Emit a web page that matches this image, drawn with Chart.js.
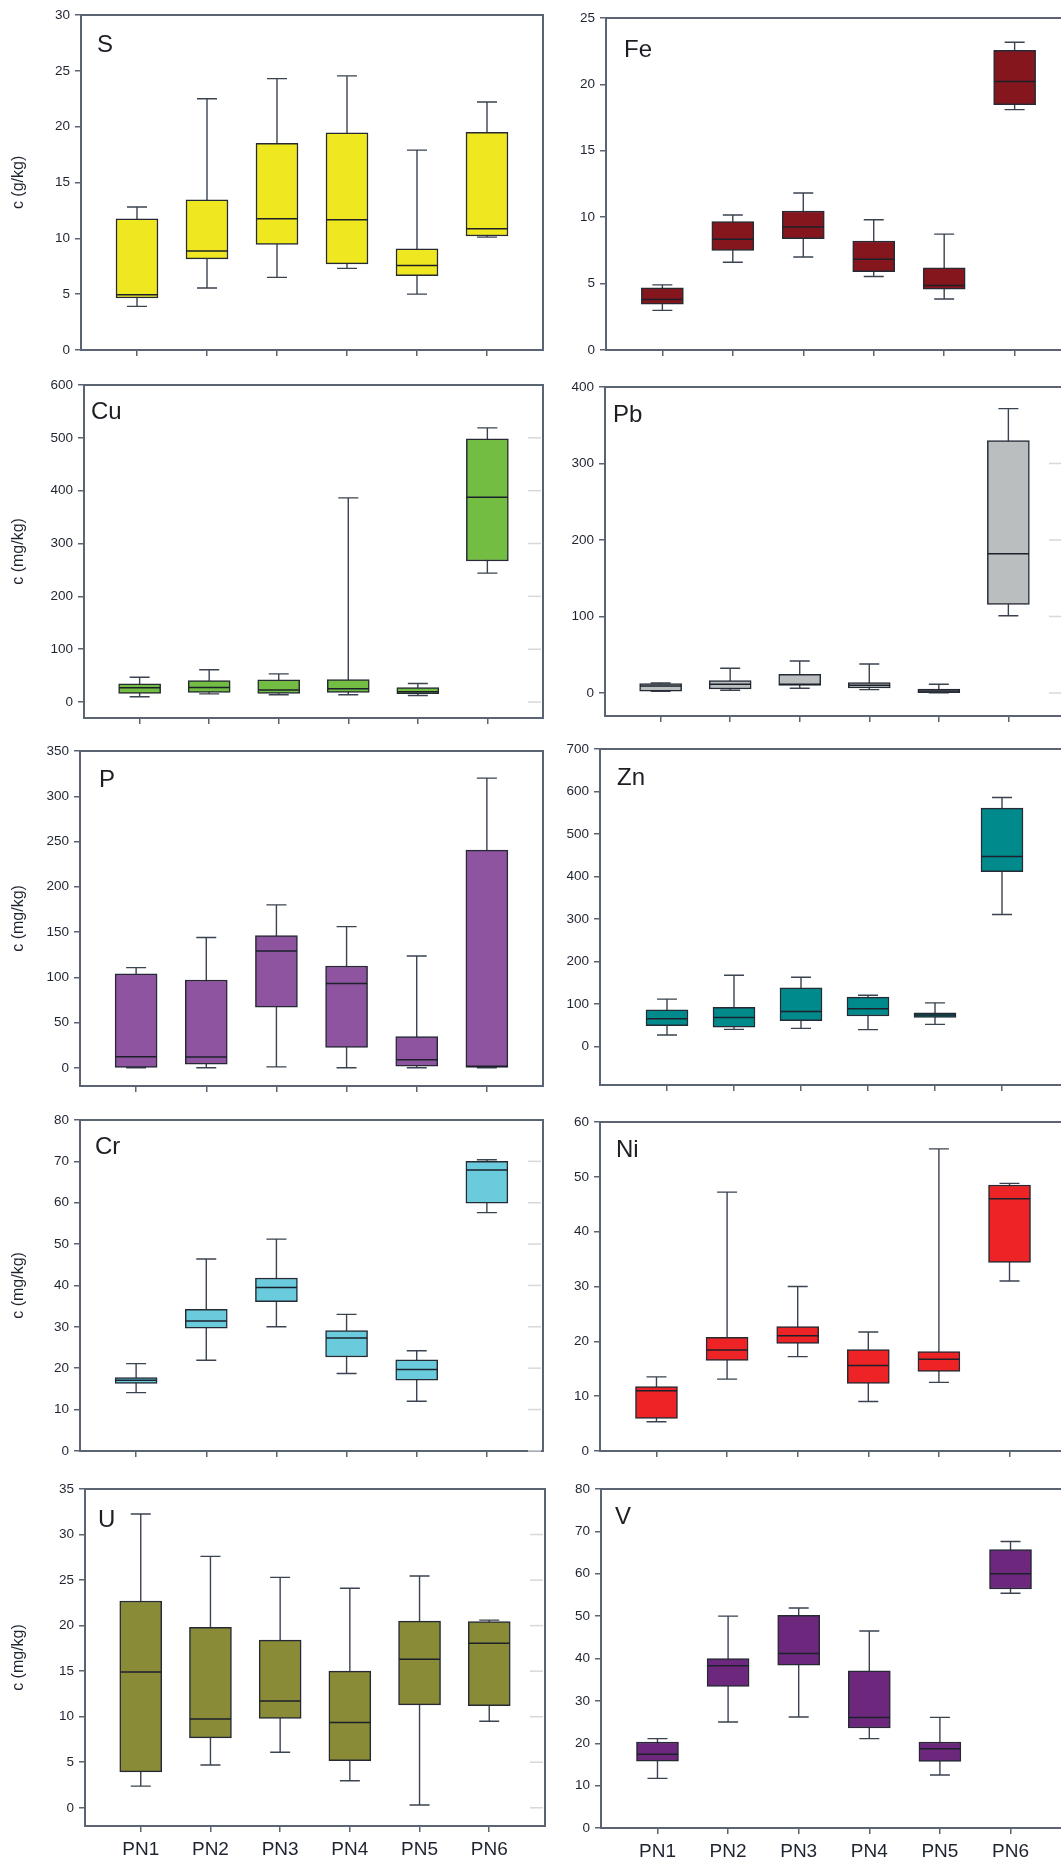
<!DOCTYPE html>
<html><head><meta charset="utf-8">
<script src="https://cdn.jsdelivr.net/npm/chart.js@4.4.1/dist/chart.umd.min.js"></script>
<style>
html,body{margin:0;padding:0;background:#fff;}
body{width:1061px;height:1864px;overflow:hidden;position:relative;}
canvas{position:absolute;}
</style></head><body>
<script>
// ---------------- DATA ----------------
const categories = ['PN1','PN2','PN3','PN4','PN5','PN6'];
// each row: [min, q1, median, q3, max]
const S_box  = [[3.9,4.65,4.95,11.75,12.8],[5.55,8.15,8.85,13.45,22.5],[6.5,9.45,11.75,18.5,24.3],[7.3,7.7,11.65,19.45,24.55],[5.0,6.65,7.55,9.05,17.9],[10.1,10.2,10.85,19.5,22.2]];
const Fe_box = [[2.98,3.45,3.8,4.68,4.9],[6.6,7.5,8.33,9.66,10.16],[7.0,8.38,9.26,10.46,11.82],[5.53,5.9,6.83,8.2,9.8],[3.83,4.57,4.85,6.19,8.72],[18.1,18.48,20.21,22.57,23.17]];
const Cu_box = [[10,16.3,27,34.5,47],[15.5,18.2,27.6,40.8,61],[13.8,16.3,22.6,42,53.3],[13.8,18.2,25.1,42.7,386.4],[12.5,15.7,19.4,27.6,35.1],[244,267,387.6,498,518.8]];
const Pb_box = [[2,2.2,9.1,12.2,13],[3.5,5.2,11.3,16.1,32.2],[6.1,10,11.3,24.3,41.7],[4.3,6.5,10,13.5,37.8],[0.2,0.5,2.6,5.2,11.3],[100.9,115.7,182,330,371.7]];
const P_box  = [[0,0.4,12.1,103.7,110.7],[0,4,11.8,97,144],[1,67,129,146,180],[0,22.4,93,112.5,156],[0,1.8,8.8,34.6,123.5],[0,0.4,1.8,240.4,320]];
const Zn_box = [[27.3,49.2,65.6,86.7,111.7],[40.6,46,68.8,92.2,168],[43,61,82.8,138.3,163.3],[40,72,89,116.4,121],[52.3,68.8,74.2,79.7,103],[310.9,411.7,446.9,561,586]];
const Cr_box = [[14.1,16.3,17.1,17.7,21.1],[21.9,29.7,31.4,34.2,46.4],[30,36.1,39.5,41.8,51.2],[18.7,22.7,27.3,29.1,33.0],[12.0,17.1,19.7,22.0,24.2],[57.6,59.9,67.9,70,70.4]];
const Ni_box = [[5.33,5.94,10.97,11.75,13.5],[13.1,16.5,18.4,20.7,47.2],[17.2,19.6,21,22.7,30],[9.0,12.3,15.6,18.5,21.7],[12.5,14.5,16.7,18.1,55.1],[31.0,34.4,46,48.5,48.8]];
const U_box  = [[2.38,3.95,14.9,22.7,32.26],[4.7,7.68,9.76,19.8,27.6],[6.1,9.8,11.73,18.4,25.3],[2.96,5.16,9.36,15.0,24.1],[0.3,11.3,16.3,20.5,25.45],[9.5,11.2,18.06,20.44,20.6]];
const V_box  = [[11.7,15.8,17.4,20.3,21.1],[25,33.4,38.3,40,50],[26.2,38.4,41.2,50.2,51.9],[21.1,23.6,26.1,37.1,46.5],[12.5,15.7,18.7,20.3,26.1],[55.4,56.4,60,65.7,67.6]];

const S_ticks  = [0,5,10,15,20,25,30];
const Fe_ticks = [0,5,10,15,20,25];
const Cu_ticks = [0,100,200,300,400,500,600];
const Pb_ticks = [0,100,200,300,400];
const P_ticks  = [0,50,100,150,200,250,300,350];
const Zn_ticks = [0,100,200,300,400,500,600,700];
const Cr_ticks = [0,10,20,30,40,50,60,70,80];
const Ni_ticks = [0,10,20,30,40,50,60];
const U_ticks  = [0,5,10,15,20,25,30,35];
const V_ticks  = [0,10,20,30,40,50,60,70,80];

// ---------------- LAYOUT / STYLE ----------------
const AXIS = '#5a6472', TXT = '#1e2430', EDGE = '#252a35', WHISK = '#3b4350', MED = '#1b202b';
const FONT = '"Liberation Sans", Arial, Helvetica, sans-serif';
const panels = [
 {name:'S',  box:S_box,  ticks:S_ticks,  ymin:0,   ymax:30,  color:'#EFE71F', title:'c (g/kg)',  ax:81,  top:15,    bottom:351,    right:543,  xmin:0.2, xmax:6.8, lx:16, ly:20,   stubs:false, labels:false},
 {name:'Fe', box:Fe_box, ticks:Fe_ticks, ymin:0,   ymax:25,  color:'#86161E', title:null,        ax:606, top:17.7,  bottom:350.7,  right:1071, xmin:0.2, xmax:6.8, lx:18, ly:22,   stubs:false, labels:false},
 {name:'Cu', box:Cu_box, ticks:Cu_ticks, ymin:-30, ymax:600, color:'#72BD42', title:'c (mg/kg)', ax:84,  top:384.7, bottom:719.3,  right:543,  xmin:0.2, xmax:6.8, lx:7,  ly:17,   stubs:true,  labels:false},
 {name:'Pb', box:Pb_box, ticks:Pb_ticks, ymin:-30, ymax:400, color:'#BBBEBE', title:null,        ax:605, top:387.3, bottom:717.3,  right:1064, xmin:0.2, xmax:6.8, lx:8,  ly:17.7, stubs:true,  labels:false},
 {name:'P',  box:P_box,  ticks:P_ticks,  ymin:-20, ymax:350, color:'#8F54A0', title:'c (mg/kg)', ax:80,  top:751,   bottom:1086.7, right:543,  xmin:0.2, xmax:6.8, lx:19, ly:19,   stubs:false, labels:false},
 {name:'Zn', box:Zn_box, ticks:Zn_ticks, ymin:-90, ymax:700, color:'#008A8C', title:null,        ax:600, top:749,   bottom:1086.3, right:1069, xmin:0,   xmax:7,   lx:17, ly:18.7, stubs:false, labels:false},
 {name:'Cr', box:Cr_box, ticks:Cr_ticks, ymin:0,   ymax:80,  color:'#6ACBDC', title:'c (mg/kg)', ax:80,  top:1120,  bottom:1452,   right:543,  xmin:0.2, xmax:6.8, lx:15, ly:16.7, stubs:true,  labels:false},
 {name:'Ni', box:Ni_box, ticks:Ni_ticks, ymin:0,   ymax:60,  color:'#EE2325', title:null,        ax:600, top:1121.7,bottom:1451.7, right:1066, xmin:0.2, xmax:6.8, lx:16, ly:17.6, stubs:false, labels:false},
 {name:'U',  box:U_box,  ticks:U_ticks,  ymin:-2,  ymax:35,  color:'#898B37', title:'c (mg/kg)', ax:85,  top:1489.3,bottom:1826,   right:545,  xmin:0.2, xmax:6.8, lx:13, ly:20.7, stubs:true,  labels:true},
 {name:'V',  box:V_box,  ticks:V_ticks,  ymin:0,   ymax:80,  color:'#6D287D', title:null,        ax:601, top:1489.3,bottom:1827.7, right:1067, xmin:0.2, xmax:6.8, lx:14, ly:18,   stubs:false, labels:true}
];

function makePlugin(p, cLeft, cTop){
  return {
    id:'boxwhisk',
    beforeDatasetsDraw(chart){
      const ctx = chart.ctx, xs = chart.scales.x, ys = chart.scales.y;
      ctx.save();
      ctx.strokeStyle = WHISK; ctx.lineWidth = 1.4;
      p.box.forEach((b,i)=>{
        const x = xs.getPixelForValue(i+1);
        const y0 = ys.getPixelForValue(b[0]), y1 = ys.getPixelForValue(b[4]);
        ctx.beginPath();
        ctx.moveTo(x,y0); ctx.lineTo(x,y1);
        ctx.moveTo(x-10,y0); ctx.lineTo(x+10,y0);
        ctx.moveTo(x-10,y1); ctx.lineTo(x+10,y1);
        ctx.stroke();
      });
      ctx.restore();
    },
    afterDatasetsDraw(chart){
      const ctx = chart.ctx, xs = chart.scales.x, ys = chart.scales.y;
      ctx.save();
      ctx.strokeStyle = MED; ctx.lineWidth = 1.5;
      p.box.forEach((b,i)=>{
        const x = xs.getPixelForValue(i+1);
        const y = ys.getPixelForValue(b[2]);
        ctx.beginPath(); ctx.moveTo(x-20.5,y); ctx.lineTo(x+20.5,y); ctx.stroke();
      });
      ctx.restore();
    },
    afterDraw(chart){
      const ctx = chart.ctx, a = chart.chartArea, ys = chart.scales.y;
      ctx.save();
      if (p.stubs){
        ctx.strokeStyle = '#d6d8da'; ctx.lineWidth = 1.5;
        p.ticks.forEach(v=>{
          if (v >= p.ymax) return;
          const y = ys.getPixelForValue(v);
          ctx.beginPath(); ctx.moveTo(a.right-15,y); ctx.lineTo(a.right-2,y); ctx.stroke();
        });
      }
      ctx.strokeStyle = AXIS; ctx.lineWidth = 2;
      ctx.beginPath();
      ctx.moveTo(a.left-1, a.top); ctx.lineTo(a.right, a.top); ctx.lineTo(a.right, a.bottom+1);
      ctx.stroke();
      ctx.fillStyle = '#1c1e24';
      ctx.font = '24px ' + FONT;
      ctx.textAlign = 'left'; ctx.textBaseline = 'alphabetic';
      ctx.fillText(p.name, a.left + p.lx, a.top + p.ly + 17.2);
      if (p.title){
        ctx.font = '16px ' + FONT;
        ctx.fillStyle = TXT;
        ctx.translate(19 - cLeft, (a.top + a.bottom)/2);
        ctx.rotate(-Math.PI/2);
        ctx.textAlign = 'center'; ctx.textBaseline = 'middle';
        ctx.fillText(p.title, 0, 0);
      }
      ctx.restore();
    }
  };
}

panels.forEach(p=>{
  const isLeft = p.ax < 300;
  const W = isLeft ? 82 : 70;
  const PADTOP = 14;
  const XH = p.labels ? 38 : 12;
  const cLeft = Math.round(p.ax) - W;
  const cTop = Math.round(p.top) - PADTOP;
  const cW = Math.round(p.right) + 3 - cLeft;
  const cH = Math.round(p.bottom) - cTop + XH;
  const cv = document.createElement('canvas');
  cv.width = cW; cv.height = cH;
  cv.style.left = cLeft + 'px'; cv.style.top = cTop + 'px';
  cv.style.width = cW + 'px'; cv.style.height = cH + 'px';
  document.body.appendChild(cv);

  new Chart(cv, {
    type:'bar',
    data:{
      datasets:[{
        data: p.box.map((b,i)=>({x:i+1, y:[b[1], b[3]]})),
        backgroundColor: p.color,
        borderColor: EDGE,
        borderWidth: 1.5,
        borderSkipped: false,
        barThickness: 42
      }]
    },
    options:{
      responsive:false,
      animation:false,
      devicePixelRatio:1,
      layout:{padding:{top:PADTOP, right:3, left:0, bottom:0}},
      plugins:{legend:{display:false}, tooltip:{enabled:false}},
      scales:{
        x:{
          type:'linear', min:p.xmin, max:p.xmax, offset:false,
          afterBuildTicks: s=>{ s.ticks = categories.map((c,i)=>({value:i+1})); },
          afterFit: s=>{ s.height = XH; },
          ticks:{autoSkip:false, maxRotation:0, minRotation:0, padding:6,
                 color:TXT, font:{family:FONT, size:19},
                 callback:(v)=> p.labels ? categories[Math.round(v)-1] : ''},
          grid:{display:true, offset:false, drawOnChartArea:false, drawTicks:true, tickLength:6, color:AXIS, tickColor:AXIS, lineWidth:1.5},
          border:{display:true, color:AXIS, width:2}
        },
        y:{
          type:'linear', min:p.ymin, max:p.ymax,
          afterBuildTicks: s=>{ s.ticks = p.ticks.map(v=>({value:v})); },
          afterFit: s=>{ s.width = W; },
          ticks:{padding:5, color:TXT, font:{family:FONT, size:13.5}},
          grid:{display:true, offset:false, drawOnChartArea:false, drawTicks:true, tickLength:6, color:AXIS, tickColor:AXIS, lineWidth:1.5},
          border:{display:true, color:AXIS, width:2}
        }
      }
    },
    plugins:[makePlugin(p, cLeft, cTop)]
  });
});
</script>
</body></html>
